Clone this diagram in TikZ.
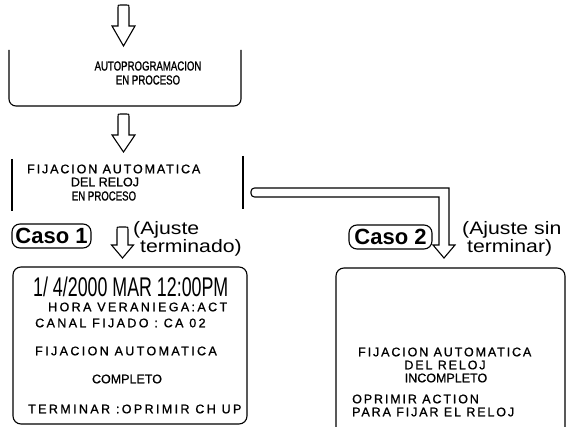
\documentclass[tikz,border=0pt]{standalone}
\usepackage{fontspec}
\setmainfont{Liberation Sans}
\newfontfamily\fcond[FakeStretch=0.74,FakeBold=1]{Liberation Sans}
\newfontfamily\fplain[FakeBold=1]{Liberation Sans}
\newfontfamily\fspc[LetterSpace=15,FakeBold=1]{Liberation Sans}
\newfontfamily\fspcw[LetterSpace=19,FakeBold=1]{Liberation Sans}
\newfontfamily\fdate[FakeStretch=0.66]{Liberation Sans}
\newfontfamily\fnote[FakeStretch=1.18]{Liberation Sans}
\newcommand{\hdarrow}[6]{% name, cx, top, headstart, tip, head half width
  \coordinate (#1) at (#2,#5);
  \draw[harrow] ({#2-5.5},#4) -- ({#2-5.5},{#3+2.5}) .. controls ({#2-5.5},#3) .. ({#2-3},#3)
    -- ({#2+3},#3) .. controls ({#2+5.5},#3) .. ({#2+5.5},{#3+2.5}) -- ({#2+5.5},#4)
    -- ({#2+#6},#4) -- (#2,#5) -- ({#2-#6},#4) -- cycle;}
\tikzset{
  harrow/.style={draw, fill=white, line width=1.1pt, line join=miter},
  frame/.style={draw, line width=1.1pt},
  tcond/.style={inner sep=0pt, font=\fcond\fontsize{13}{15}\selectfont},
  tplain/.style={inner sep=0pt, font=\fplain\fontsize{12.5}{15}\selectfont},
  tspc/.style={inner sep=0pt, font=\fspc\fontsize{12.5}{15}\selectfont},
  tspcw/.style={inner sep=0pt, font=\fspcw\fontsize{12.5}{15}\selectfont},
  tdate/.style={inner sep=0pt, font=\fdate\fontsize{27}{30}\selectfont},
  casebox/.style={draw, line width=1.1pt, rounded corners=8pt, inner sep=0pt,
    minimum height=24pt, font=\bfseries\fontsize{22}{24}\selectfont},
  tnote/.style={inner sep=0pt, font=\fnote\fontsize{18}{20}\selectfont, anchor=west},
}
\begin{document}
\begin{tikzpicture}[x=1pt,y=-1pt]
\useasboundingbox (0,0) rectangle (566,427);
\fill[white] (0,0) rectangle (566,427);

% arrow 1
\hdarrow{a1}{123.5}{5}{26}{46}{11.5}

% box 1
\draw[frame, rounded corners=7pt] (9,50) -- (9,106) -- (241,106) -- (241,50);
\node[tcond] (b1a) at (148,66) {AUTOPROGRAMACION};
\node[tcond] (b1b) at (148,80) {EN PROCESO};

% arrow 2
\hdarrow{a2}{123.5}{114}{135}{152}{11.5}

% box 2
\draw[frame] (12,159) -- (12,211);
\draw[frame] (243,156) -- (243,209);
\node[tspc, anchor=west] (b2a) at (27,169) {FIJACION AUTOMATICA};
\node[tplain] (b2b) at (105,182) {DEL RELOJ};
\node[tcond] (b2c) at (104,196) {EN PROCESO};

% L-shaped arrow to case 2
\coordinate (ltip) at (444,258);
\draw[harrow] (300,188) -- (449,188) -- (449,245) -- (455,245) -- (ltip) -- (433,245)
  -- (439,245) -- (439,197) -- (300,197) [rounded corners=3.5pt] -- (251,197) -- (251,188) -- cycle;

% case labels
\node[casebox, minimum width=79pt] (c1) at (51.5,236) {Caso 1};
\hdarrow{a3}{122.5}{227}{245}{258}{11}
\node[tnote] (n1a) at (133,229.5) {(Ajuste};
\node[tnote] (n1b) at (140,248) {terminado)};

\node[casebox, minimum width=83pt] (c2) at (390.5,237) {Caso 2};
\node[tnote] (n2a) at (462,229.5) {(Ajuste sin};
\node[tnote] (n2b) at (467,247.5) {terminar)};

% box 3
\draw[frame, rounded corners=8pt] (13,267) rectangle (247,424);
\node[tdate, anchor=west] (d1) at (33,287) {1/ 4/2000 MAR 12:00PM};
\node[tspcw, anchor=west] (d2) at (48,307) {HORA VERANIEGA:ACT};
\node[tspcw, anchor=west] (d3) at (35,323) {CANAL FIJADO : CA 02};
\node[tspcw, anchor=west] (d4) at (35,351) {FIJACION AUTOMATICA};
\node[tplain] (d5) at (127,379) {COMPLETO};
\node[tspcw, anchor=west] (d6) at (28,409) {TERMINAR :OPRIMIR CH UP};

% box 4
\draw[frame, rounded corners=8pt] (336,427) -- (336,268) -- (565,268) -- (565,427);
\node[tspc, anchor=west] (e1) at (358,352) {FIJACION AUTOMATICA};
\node[tspc] (e2) at (445,365) {DEL RELOJ};
\node[tplain] (e3) at (446,378) {INCOMPLETO};
\node[tspc, anchor=west] (e4) at (352,399) {OPRIMIR ACTION};
\node[tspc, anchor=west] (e5) at (352,412) {PARA FIJAR EL RELOJ};
\end{tikzpicture}
\end{document}
